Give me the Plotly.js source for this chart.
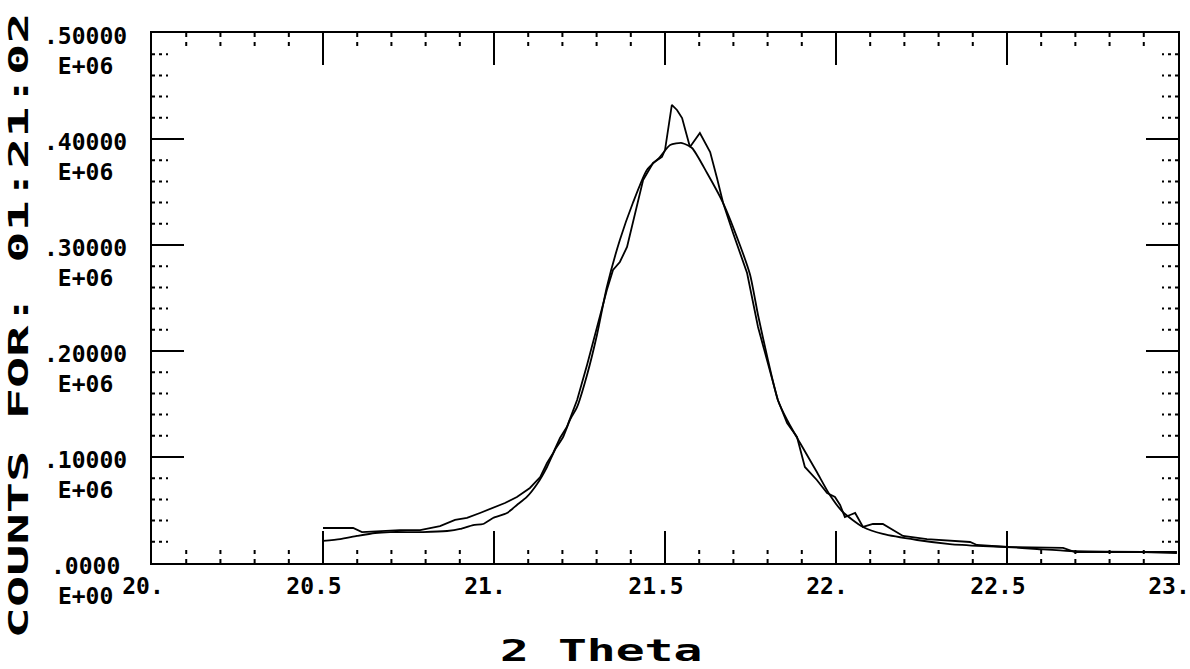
<!DOCTYPE html>
<html>
<head>
<meta charset="utf-8">
<script src="https://cdn.plot.ly/plotly-3.0.1.min.js"></script>
<style>
  html, body { margin: 0; padding: 0; background: #fff; }
  #chart { width: 1190px; height: 669px; }
</style>
</head>
<body>
<div id="chart"></div>
<script>
// ---- data ----
const thetaMeas = [20.5, 20.55, 20.588, 20.614, 20.667, 20.725, 20.784, 20.813, 20.842, 20.886, 20.921, 20.959, 20.997, 21.032, 21.067, 21.105, 21.135, 21.155, 21.173, 21.193, 21.213, 21.243, 21.272, 21.301, 21.330, 21.348, 21.368, 21.389, 21.404, 21.418, 21.436, 21.465, 21.491, 21.5, 21.520, 21.535, 21.550, 21.561, 21.573, 21.602, 21.617, 21.632, 21.652, 21.670, 21.699, 21.740, 21.772, 21.801, 21.830, 21.857, 21.886, 21.909, 21.944, 21.974, 21.997, 22.012, 22.026, 22.041, 22.056, 22.079, 22.108, 22.137, 22.167, 22.196, 22.266, 22.392, 22.412, 22.5, 22.664, 22.699, 22.898, 22.997];
const countsMeas = [33000, 33000, 33000, 29200, 30200, 31100, 31100, 33000, 34900, 40600, 42500, 47200, 51900, 56600, 62300, 70800, 81100, 94300, 103800, 117900, 128300, 153800, 186800, 221700, 257500, 276400, 284000, 298100, 318900, 335900, 361300, 377400, 383000, 389600, 432100, 427400, 419800, 406600, 392500, 405700, 397200, 387700, 363200, 339600, 311300, 273600, 222600, 186800, 153800, 132100, 118900, 90600, 78300, 66000, 62300, 54700, 43400, 45300, 47200, 34000, 36800, 36800, 31100, 25500, 22600, 19800, 17000, 15100, 14200, 10400, 10400, 9400];

const thetaFit = [20.5, 20.55, 20.599, 20.652, 20.696, 20.792, 20.863, 20.901, 20.939, 20.968, 20.997, 21.038, 21.067, 21.096, 21.126, 21.155, 21.178, 21.202, 21.222, 21.243, 21.272, 21.301, 21.330, 21.368, 21.406, 21.447, 21.485, 21.515, 21.550, 21.579, 21.623, 21.670, 21.719, 21.749, 21.772, 21.801, 21.830, 21.857, 21.895, 21.944, 21.982, 22.020, 22.079, 22.137, 22.237, 22.333, 22.430, 22.5, 22.588, 22.684, 22.898, 22.997];
const countsFit = [20800, 22600, 25500, 28300, 29200, 29200, 30200, 32100, 35800, 36800, 42500, 47200, 54700, 62300, 74500, 90600, 106600, 118900, 134900, 147200, 177400, 215100, 260400, 304700, 339600, 370800, 383000, 394300, 396200, 391500, 367900, 339600, 300000, 271700, 234000, 191500, 153800, 134900, 113200, 85800, 64200, 48100, 34000, 27400, 21700, 17900, 16000, 15100, 13200, 11300, 10400, 10400];

const xTickVals = [20, 20.5, 21, 21.5, 22, 22.5, 23];
const xTickText = ["20.", "20.5", "21.", "21.5", "22.", "22.5", "23."];
const yTickVals = [0, 100000, 200000, 300000, 400000, 500000];
const yTickMant = [".0000", ".10000", ".20000", ".30000", ".40000", ".50000"];
const yTickExp  = ["E+00", "E+06", "E+06", "E+06", "E+06", "E+06"];

const yTitle = "COUNTS FOR: 01:21:02";
const xTitle = "2 Theta";

// ---- styling ----
const MONO = "DejaVu Sans Mono";
const plotH = 669 - 33 - 106;
const plotW = 1190 - 152 - 12;

const traces = [
  { x: thetaMeas, y: countsMeas, mode: "lines", line: { color: "#000", width: 1.8 }, hoverinfo: "skip", showlegend: false },
  { x: thetaFit,  y: countsFit,  mode: "lines", line: { color: "#000", width: 1.8, shape: "spline", smoothing: 0.6 }, hoverinfo: "skip", showlegend: false }
];

// minor (dotted) tick marks
const shapes = [];
for (let i = 1; i < 30; i++) {
  if (i % 5 === 0) continue;
  const xv = 20 + i * 0.1;
  const len = 14 / plotH;
  shapes.push({ type: "line", xref: "x", yref: "paper", x0: xv, x1: xv, y0: 0, y1: len, line: { color: "#000", width: 2, dash: "4px,5px" } });
  shapes.push({ type: "line", xref: "x", yref: "paper", x0: xv, x1: xv, y0: 1, y1: 1 - len, line: { color: "#000", width: 2, dash: "4px,5px" } });
}
for (let j = 1; j < 25; j++) {
  if (j % 5 === 0) continue;
  const yv = j * 20000;
  const len = 16 / plotW;
  shapes.push({ type: "line", xref: "paper", yref: "y", x0: 0, x1: len, y0: yv, y1: yv, line: { color: "#000", width: 2, dash: "3px,4px" } });
  shapes.push({ type: "line", xref: "paper", yref: "y", x0: 1, x1: 1 - len, y0: yv, y1: yv, line: { color: "#000", width: 2, dash: "3px,4px" } });
}

const annotations = [
  { text: yTitle, xref: "paper", yref: "paper", x: 0, y: 0.5, xanchor: "center", yanchor: "middle",
    xshift: -133, yshift: -28, textangle: -90, showarrow: false,
    font: { family: MONO, size: 26, color: "#000", weight: "bold" } },
  { text: xTitle, xref: "paper", yref: "paper", x: (601 - 152) / plotW, y: 0, xanchor: "center", yanchor: "middle",
    yshift: -87, showarrow: false,
    font: { family: MONO, size: 30, color: "#000", weight: "bold" } }
];
yTickVals.forEach((v, k) => {
  annotations.push({ text: yTickMant[k] + "<br>" + yTickExp[k], align: "center",
    xref: "paper", yref: "y", x: 0, y: v, xanchor: "center", yanchor: "middle",
    xshift: -67, yshift: -18, showarrow: false, borderpad: 0,
    font: { family: MONO, size: 23, color: "#000", weight: "bold" } });
});

const layout = {
  width: 1190, height: 669,
  margin: { l: 152, r: 12, t: 33, b: 106 },
  paper_bgcolor: "#fff", plot_bgcolor: "#fff",
  showlegend: false,
  xaxis: {
    range: [19.9999, 23.0001], tickmode: "array", tickvals: xTickVals, ticktext: xTickText,
    ticks: "inside", ticklen: 32, tickwidth: 1.5, tickcolor: "#000",
    showline: true, linewidth: 2, linecolor: "#000", mirror: "ticks",
    showgrid: false, zeroline: false,
    tickfont: { family: MONO, size: 23, color: "#000", weight: "bold" },
    ticklabeloverflow: "allow",
    ticklabelshift: -9,
    ticklabelstandoff: 1
  },
  yaxis: {
    range: [0, 500000], tickmode: "array", tickvals: yTickVals,
    ticks: "inside", ticklen: 32, tickwidth: 1.5, tickcolor: "#000",
    showline: true, linewidth: 2, linecolor: "#000", mirror: "ticks",
    showgrid: false, zeroline: false, showticklabels: false
  },
  shapes: shapes,
  annotations: annotations
};

Plotly.newPlot("chart", traces, layout, { staticPlot: true, displayModeBar: false }).then(() => {
  const groups = document.querySelectorAll("#chart g.annotation");
  const scales = [2.0, 1.6];
  scales.forEach((s, i) => {
    const g = groups[i];
    if (!g) return;
    const t = g.querySelector("text.annotation-text");
    if (!t) return;
    t.style.transformBox = "fill-box";
    t.style.transformOrigin = "50% 50%";
    t.style.transform = "scaleX(" + s + ")";
  });
});
</script>
</body>
</html>
